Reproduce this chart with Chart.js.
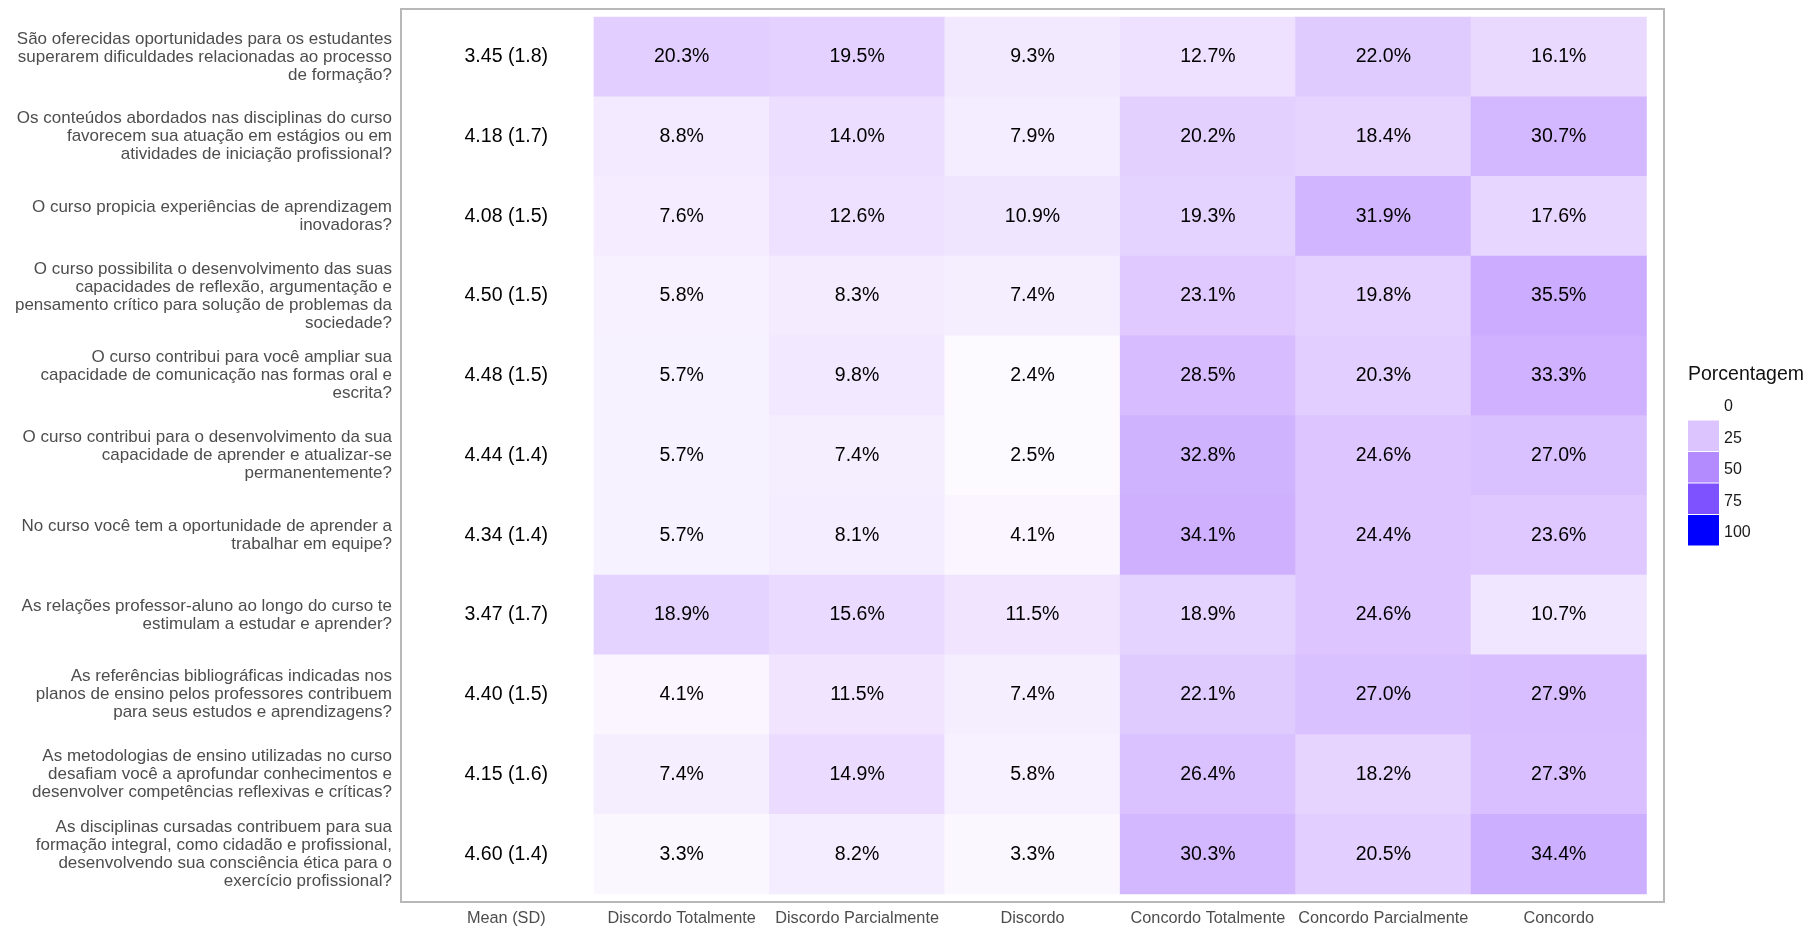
<!DOCTYPE html>
<html>
<head>
<meta charset="utf-8">
<script src="https://cdn.jsdelivr.net/npm/chart.js@4.4.1/dist/chart.umd.min.js"></script>
<style>
  html, body { margin: 0; padding: 0; background: #ffffff; }
  #wrap { width: 1809px; height: 929px; }
</style>
</head>
<body>
<div id="wrap"><canvas id="chart" width="1809" height="929"></canvas></div>
<script>
// Survey items (y axis, top to bottom)
const questions = [
    ['São oferecidas oportunidades para os estudantes', 'superarem dificuldades relacionadas ao processo', 'de formação?'],
    ['Os conteúdos abordados nas disciplinas do curso', 'favorecem sua atuação em estágios ou em', 'atividades de iniciação profissional?'],
    ['O curso propicia experiências de aprendizagem', 'inovadoras?'],
    ['O curso possibilita o desenvolvimento das suas', 'capacidades de reflexão, argumentação e', 'pensamento crítico para solução de problemas da', 'sociedade?'],
    ['O curso contribui para você ampliar sua', 'capacidade de comunicação nas formas oral e', 'escrita?'],
    ['O curso contribui para o desenvolvimento da sua', 'capacidade de aprender e atualizar-se', 'permanentemente?'],
    ['No curso você tem a oportunidade de aprender a', 'trabalhar em equipe?'],
    ['As relações professor-aluno ao longo do curso te', 'estimulam a estudar e aprender?'],
    ['As referências bibliográficas indicadas nos', 'planos de ensino pelos professores contribuem', 'para seus estudos e aprendizagens?'],
    ['As metodologias de ensino utilizadas no curso', 'desafiam você a aprofundar conhecimentos e', 'desenvolver competências reflexivas e críticas?'],
    ['As disciplinas cursadas contribuem para sua', 'formação integral, como cidadão e profissional,', 'desenvolvendo sua consciência ética para o', 'exercício profissional?']
];

// x axis columns
const columns = ['Mean (SD)', 'Discordo Totalmente', 'Discordo Parcialmente', 'Discordo',
    'Concordo Totalmente', 'Concordo Parcialmente', 'Concordo'];

const means = [3.45, 4.18, 4.08, 4.50, 4.48, 4.44, 4.34, 3.47, 4.40, 4.15, 4.60];
const sds = [1.8, 1.7, 1.5, 1.5, 1.5, 1.4, 1.4, 1.7, 1.5, 1.6, 1.4];

// Percentages per answer
const discordoTotalmente = [20.3, 8.8, 7.6, 5.8, 5.7, 5.7, 5.7, 18.9, 4.1, 7.4, 3.3];
const discordoParcialmente = [19.5, 14.0, 12.6, 8.3, 9.8, 7.4, 8.1, 15.6, 11.5, 14.9, 8.2];
const discordo = [9.3, 7.9, 10.9, 7.4, 2.4, 2.5, 4.1, 11.5, 7.4, 5.8, 3.3];
const concordoTotalmente = [12.7, 20.2, 19.3, 23.1, 28.5, 32.8, 34.1, 18.9, 22.1, 26.4, 30.3];
const concordoParcialmente = [22.0, 18.4, 31.9, 19.8, 20.3, 24.6, 24.4, 24.6, 27.0, 18.2, 20.5];
const concordo = [16.1, 30.7, 17.6, 35.5, 33.3, 27.0, 23.6, 10.7, 27.9, 27.3, 34.4];

const answerSeries = [discordoTotalmente, discordoParcialmente, discordo,
    concordoTotalmente, concordoParcialmente, concordo];

// Legend breaks
const legendBreaks = [0, 25, 50, 75, 100];

const FONT = '"Liberation Sans", Arial, sans-serif';

// white -> blue gradient interpolated in CIELAB (like ggplot's scale_fill_gradient)
function labColor(t) {
    const L = 100 + (32.30 - 100) * t;
    const A = 79.19 * t;
    const B = -107.86 * t;
    const fy = (L + 16) / 116;
    const fx = fy + A / 500;
    const fz = fy - B / 200;
    const finv = f => f > 6 / 29 ? f * f * f : 3 * (6 / 29) * (6 / 29) * (f - 4 / 29);
    const X = 0.95047 * finv(fx), Y = finv(fy), Z = 1.08883 * finv(fz);
    let r = 3.2406 * X - 1.5372 * Y - 0.4986 * Z;
    let g = -0.9689 * X + 1.8758 * Y + 0.0415 * Z;
    let b = 0.0557 * X - 0.2040 * Y + 1.0570 * Z;
    const gam = c => {
        c = Math.min(1, Math.max(0, c));
        return Math.round(255 * (c <= 0.0031308 ? 12.92 * c : 1.055 * Math.pow(c, 1 / 2.4) - 0.055));
    };
    return `rgb(${gam(r)}, ${gam(g)}, ${gam(b)})`;
}

// Build heatmap cells as floating bars
const cells = [];
answerSeries.forEach((series, c) => {
    series.forEach((v, r) => {
        cells.push({ x: c + 2, y: [r + 0.5, r + 1.5], v: v });
    });
});

// Draw percentage text, mean column, panel border and legend
const heatmapExtras = {
    id: 'heatmapExtras',
    afterDatasetsDraw(chart) {
        const ctx = chart.ctx;
        const xs = chart.scales.x, ys = chart.scales.y;
        ctx.save();
        ctx.font = `19.5px ${FONT}`;
        ctx.fillStyle = '#000000';
        ctx.textAlign = 'center';
        ctx.textBaseline = 'middle';
        chart.getDatasetMeta(0).data.forEach((bar, i) => {
            const cy = (bar.y + bar.base) / 2;
            ctx.fillText(cells[i].v.toFixed(1) + '%', bar.x, cy);
        });
        means.forEach((m, r) => {
            ctx.fillText(`${m.toFixed(2)} (${sds[r].toFixed(1)})`, xs.getPixelForValue(1), ys.getPixelForValue(r + 1));
        });

        // panel border
        const a = chart.chartArea;
        ctx.strokeStyle = '#b8b8b8';
        ctx.lineWidth = 2;
        ctx.strokeRect(a.left, a.top, a.right - a.left, a.bottom - a.top);

        // legend
        const lx = 1688;
        ctx.textAlign = 'left';
        ctx.fillStyle = '#111111';
        ctx.font = `19.5px ${FONT}`;
        ctx.fillText('Porcentagem', lx, 375);
        ctx.font = `16px ${FONT}`;
        legendBreaks.forEach((b, i) => {
            const top = 389 + i * 31.5;
            ctx.fillStyle = labColor(b / 100);
            ctx.fillRect(lx, top, 31, 30.5);
            ctx.fillStyle = '#1a1a1a';
            ctx.fillText(String(b), 1724, top + 18);
        });
        ctx.restore();
    }
};

const ctx = document.getElementById('chart').getContext('2d');
new Chart(ctx, {
    type: 'bar',
    data: {
        datasets: [{
            data: cells,
            backgroundColor: c => c.raw ? labColor(c.raw.v / 100) : '#fff',
            borderWidth: 0,
            barPercentage: 1,
            categoryPercentage: 1,
            grouped: false
        }]
    },
    options: {
        responsive: false,
        animation: false,
        layout: { padding: { top: 9, right: 145, left: 0, bottom: 0 } },
        plugins: {
            legend: { display: false },
            tooltip: { enabled: false }
        },
        scales: {
            x: {
                type: 'linear',
                min: 0.4,
                max: 7.6,
                offset: false,
                grid: { display: false, drawTicks: false },
                border: { display: false },
                afterBuildTicks: s => { s.ticks = columns.map((c, i) => ({ value: i + 1 })); },
                afterFit: s => {
                    s.height = 27;
                    s.paddingLeft = 0;
                    s.paddingRight = 0;
                },
                ticks: {
                    autoSkip: false,
                    maxRotation: 0,
                    padding: 7,
                    color: '#4d4d4d',
                    font: { family: FONT, size: 16.3 },
                    callback: v => columns[v - 1] || ''
                }
            },
            y: {
                type: 'linear',
                min: 0.4,
                max: 11.6,
                reverse: true,
                grid: { display: false, drawTicks: false },
                border: { display: false },
                afterBuildTicks: s => { s.ticks = questions.map((q, i) => ({ value: i + 1 })); },
                afterFit: s => {
                    s.width = 401;
                    s.paddingTop = 0;
                    s.paddingBottom = 0;
                },
                ticks: {
                    autoSkip: false,
                    padding: 9,
                    color: '#4d4d4d',
                    font: { family: FONT, size: 17, lineHeight: 1.06 },
                    callback: v => questions[v - 1] || ''
                }
            }
        }
    },
    plugins: [heatmapExtras]
});
</script>
</body>
</html>
